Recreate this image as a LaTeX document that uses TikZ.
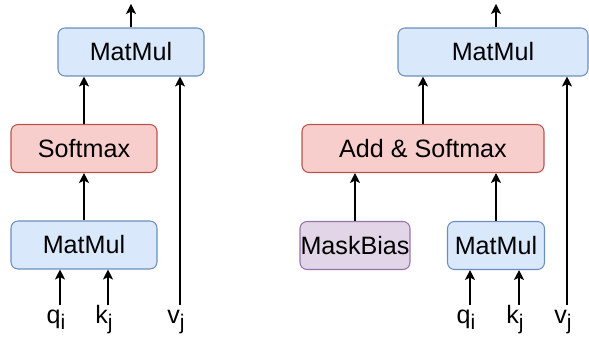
\documentclass[tikz,border=0pt]{standalone}
\usepackage{fontspec}
\setmainfont{Liberation Sans}
\usetikzlibrary{arrows.meta}
\definecolor{mmfill}{HTML}{DAE8FC}
\definecolor{mmdraw}{HTML}{6C8EBF}
\definecolor{smfill}{HTML}{F8CECC}
\definecolor{smdraw}{HTML}{B85450}
\definecolor{mbfill}{HTML}{E1D5E7}
\definecolor{mbdraw}{HTML}{9673A6}
\newcommand{\lsub}[1]{\raisebox{-3pt}{\fontsize{12}{13}\selectfont #1}}

\begin{document}
\begin{tikzpicture}[x=0.02cm,y=-0.02cm,every node/.style={font=\fontsize{14.3}{17}\selectfont}]
    \tikzset{
      blk/.style={rounded corners=4pt,line width=0.6pt,minimum height=0.96cm,inner sep=0pt},
      bluebox/.style={blk,fill=mmfill,draw=mmdraw},
      redbox/.style={blk,fill=smfill,draw=smdraw},
      purplebox/.style={blk,fill=mbfill,draw=mbdraw},
      arrow/.style={-{Stealth[length=2mm,width=2mm,inset=0.5mm]},line width=0.6pt},
      lab/.style={inner sep=0.1cm,text height=0.28cm,text depth=0pt,anchor=base}
    }
    \useasboundingbox (0,0) rectangle (589,337);

    % single head
    \node[bluebox,minimum width=2.92cm] (mmTopL) at (131,52) {MatMul};
    \node[redbox,minimum width=2.92cm] (smL) at (84,148.5) {Softmax};
    \node[bluebox,minimum width=2.92cm] (mmBotL) at (84,245) {MatMul};
    \node[lab] (qL) at (56,324) {q\lsub{i}};
    \node[lab] (kL) at (104,324) {k\lsub{j}};
    \node[lab] (vL) at (176,324) {v\lsub{j}};
    \coordinate (qLs) at ([xshift=0.08cm]qL.north);
    \coordinate (kLs) at ([xshift=0.08cm]kL.north);
    \coordinate (vLs) at ([xshift=0.08cm]vL.north);
    \coordinate (outL) at (131,4);
    \draw[arrow] (qLs) -- (qLs |- mmBotL.south);
    \draw[arrow] (kLs) -- (kLs |- mmBotL.south);
    \draw[arrow] (vLs) -- (vLs |- mmTopL.south);
    \draw[arrow] (mmBotL) -- (smL);
    \draw[arrow] (smL.north) -- (smL.north |- mmTopL.south);
    \draw[arrow] (mmTopL.north) -- (outL);

    % with mask bias
    \node[bluebox,minimum width=3.8cm] (mmTopR) at (493,52) {MatMul};
    \node[redbox,minimum width=4.84cm] (addR) at (423,148.5) {Add \& Softmax};
    \node[purplebox,minimum width=2.2cm] (maskR) at (355,245.5) {MaskBias};
    \node[bluebox,minimum width=1.94cm] (mmBotR) at (496,245.5) {MatMul};
    \node[lab] (qR) at (466,324) {q\lsub{i}};
    \node[lab] (kR) at (515,324) {k\lsub{j}};
    \node[lab] (vR) at (563,324) {v\lsub{j}};
    \coordinate (qRs) at ([xshift=0.08cm]qR.north);
    \coordinate (kRs) at ([xshift=0.08cm]kR.north);
    \coordinate (vRs) at ([xshift=0.08cm]vR.north);
    \coordinate (outR) at (496,4);
    \draw[arrow] (qRs) -- (qRs |- mmBotR.south);
    \draw[arrow] (kRs) -- (kRs |- mmBotR.south);
    \draw[arrow] (vRs) -- (vRs |- mmTopR.south);
    \draw[arrow] (maskR) -- (maskR |- addR.south);
    \draw[arrow] (mmBotR) -- (mmBotR |- addR.south);
    \draw[arrow] (addR) -- (addR |- mmTopR.south);
    \draw[arrow] (mmTopR.north -| outR) -- (outR);
  \end{tikzpicture}
\end{document}
